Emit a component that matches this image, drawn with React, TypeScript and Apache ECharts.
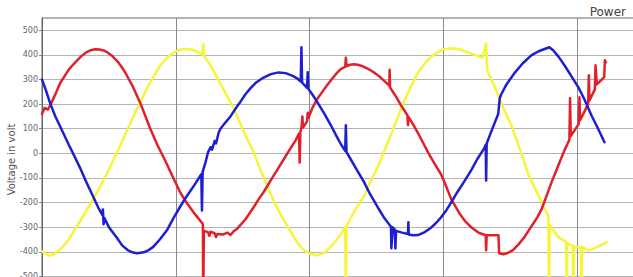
import React, { useEffect, useRef } from 'react';
import * as echarts from 'echarts';

// time in ms, voltage in volt
const yTicks = { min: -600, max: 550, step: 100 };
const xRange = { min: 0, max: 44.3, step: 10 };

const phaseRed: [number, number][] = [
  [0, 160], [0.2, 185], [0.45, 178], [0.7, 205], [1.0, 240], [1.35, 285], [1.7, 315], [2.0, 340],
  [2.35, 362], [2.7, 382], [3.0, 398], [3.3, 410], [3.65, 419], [3.97, 423], [4.3, 422], [4.6, 418],
  [4.9, 410], [5.2, 398], [5.62, 375], [5.9, 355], [6.2, 330], [6.5, 300], [6.8, 270], [7.34, 205],
  [7.7, 155], [8.09, 100], [8.61, 35], [9.21, -30], [9.81, -100], [10.34, -160], [10.86, -205],
  [11.4, -245], [11.99, -285], [12.02, -290], [12.04, -600], [12.08, -600], [12.1, -315], [12.4, -320],
  [12.5, -335], [12.6, -318], [12.9, -325], [13.0, -340], [13.1, -328], [13.5, -330], [13.86, -322],
  [14.08, -332], [14.3, -318], [14.61, -305], [15.2, -268], [15.8, -220], [16.2, -185], [16.55, -158],
  [17.2, -100], [17.6, -65], [18.05, -25], [18.5, 15], [18.95, 53], [19.2, 80], [19.25, -37],
  [19.3, 85], [19.4, 110], [19.45, 150], [19.5, 105], [19.8, 130], [19.85, 165], [19.9, 145],
  [20.25, 190], [20.6, 224], [21.1, 262], [21.57, 296], [22.0, 325], [22.32, 342], [22.65, 352],
  [22.7, 388], [22.75, 354], [23.0, 360], [23.3, 362], [23.6, 360], [23.9, 355], [24.2, 347],
  [24.57, 337], [24.9, 325], [25.3, 308], [25.95, 275], [25.97, 340], [26.0, 268], [26.07, 262],
  [26.45, 230], [26.82, 195], [27.3, 155], [27.34, 115], [27.38, 148], [27.7, 120], [28.09, 82],
  [28.45, 45], [28.84, 4], [29.3, -40], [29.81, -85], [30.2, -135], [30.56, -185], [31.2, -245],
  [31.6, -275], [32.06, -300], [32.6, -322], [33.15, -333], [33.18, -394], [33.22, -333], [34.1, -333],
  [34.15, -406], [34.46, -410], [34.8, -405], [35.2, -392], [35.6, -370], [36.03, -341], [36.4, -310],
  [36.7, -285], [37.0, -260], [37.3, -230], [37.68, -175], [38.05, -120], [38.6, -45], [39.03, 12],
  [39.4, 55], [39.45, 224], [39.5, 70], [40.1, 120], [40.15, 228], [40.2, 135], [40.8, 200],
  [40.85, 317], [40.9, 215], [41.3, 260], [41.35, 358], [41.45, 280], [42.0, 310], [42.05, 378],
  [42.12, 370],
];

const phaseYellow: [number, number][] = [
  [0, -398], [0.3, -410], [0.6, -415], [0.9, -410], [1.35, -390], [1.7, -370], [2.0, -350],
  [2.4, -315], [2.85, -275], [3.3, -235], [3.82, -185], [4.3, -140], [4.87, -80], [5.3, -30],
  [5.62, 5], [6.0, 50], [6.5, 110], [7.0, 170], [7.34, 205], [7.8, 260], [8.31, 310], [8.8, 355],
  [9.36, 390], [9.9, 412], [10.56, 425], [11.2, 422], [11.61, 412], [11.95, 402], [12.06, 443],
  [12.12, 395], [12.5, 365], [12.81, 335], [13.3, 285], [13.86, 230], [14.3, 185], [14.7, 135],
  [15.06, 90], [15.45, 45], [15.81, 5], [16.3, -65], [16.85, -135], [17.4, -205], [18.05, -270],
  [18.6, -320], [19.1, -365], [19.55, -392], [20.0, -408], [20.6, -415], [21.2, -400], [21.8, -366],
  [22.3, -330], [22.65, -300], [22.7, -600], [22.75, -295], [22.85, -285], [23.4, -230],
  [24.04, -175], [24.5, -120], [25.09, -54], [25.5, 0], [26.07, 75], [26.5, 135], [26.82, 180],
  [27.2, 230], [27.6, 275], [28.0, 320], [28.31, 345], [28.7, 372], [29.06, 392], [29.6, 412],
  [30.0, 422], [30.56, 427], [31.1, 424], [31.6, 415], [32.06, 405], [32.5, 397], [32.9, 388],
  [33.18, 447], [33.25, 340], [33.33, 329], [33.7, 285], [34.08, 236], [34.5, 180], [35.06, 114],
  [35.35, 70], [35.66, 22], [36.0, -30], [36.33, -85], [36.8, -140], [37.3, -195], [37.6, -230],
  [37.83, -255], [37.88, -600], [37.93, -290], [38.58, -341], [39.15, -360], [39.2, -600],
  [39.25, -365], [39.65, -375], [39.7, -600], [39.75, -380], [40.25, -385], [40.3, -600],
  [40.35, -380], [40.82, -394], [41.3, -385], [42.02, -366], [42.17, -360],
];

const phaseBlue: [number, number][] = [
  [0, 300], [0.3, 255], [0.6, 205], [1.0, 150], [1.57, 85], [2.0, 35], [2.32, 0], [2.85, -60],
  [3.3, -115], [3.82, -175], [4.2, -220], [4.5, -250], [4.55, -228], [4.6, -288], [4.65, -262],
  [5.0, -300], [5.62, -345], [6.0, -375], [6.4, -393], [6.8, -403], [7.12, -406], [7.6, -402],
  [8.0, -392], [8.31, -380], [8.8, -350], [9.36, -310], [9.8, -265], [10.34, -215], [10.8, -175],
  [11.31, -135], [11.9, -85], [11.95, -232], [12.0, -75], [12.2, -40], [12.4, 4], [12.6, 25],
  [12.7, 15], [12.9, 50], [13.0, 40], [13.2, 85], [13.33, 100], [13.7, 125], [14.08, 150],
  [14.5, 185], [14.83, 210], [15.2, 240], [15.58, 265], [16.0, 288], [16.55, 308], [17.1, 322],
  [17.68, 329], [18.2, 326], [18.73, 315], [19.05, 305], [19.33, 292], [19.38, 431], [19.43, 288],
  [19.8, 266], [19.85, 330], [19.9, 262], [20.25, 235], [20.6, 205], [21.1, 160], [21.57, 115],
  [22.0, 70], [22.32, 38], [22.65, 10], [22.7, 114], [22.75, 5], [23.07, -25], [23.5, -65],
  [24.04, -115], [24.5, -165], [25.09, -220], [25.6, -265], [26.07, -298], [26.1, -386], [26.2, -300],
  [26.35, -310], [26.4, -386], [26.45, -315], [26.9, -322], [27.34, -328], [27.37, -280], [27.4, -330],
  [27.7, -333], [28.09, -332], [28.6, -320], [29.06, -302], [29.4, -285], [29.81, -260], [30.2, -232],
  [30.56, -200], [31.0, -160], [31.5, -118], [32.06, -69], [32.5, -25], [33.03, 20], [33.15, 35],
  [33.18, -110], [33.22, 40], [33.5, 80], [34.08, 160], [34.2, 225], [34.31, 240], [34.7, 280],
  [35.28, 325], [35.9, 365], [36.55, 398], [37.1, 415], [37.6, 425], [37.9, 431], [38.2, 418],
  [38.6, 392], [39.03, 358], [39.5, 318], [40.07, 268], [40.5, 222], [41.05, 154], [41.5, 105],
  [42.02, 45],
];

export default function App() {
  const ref = useRef<HTMLDivElement>(null);
  useEffect(() => {
    if (!ref.current) return;
    const chart = echarts.init(ref.current, null, { renderer: 'svg' });
    const line = (name: string, data: [number, number][], color: string) => ({
      name,
      type: 'line',
      data,
      showSymbol: false,
      symbol: 'none',
      clip: true,
      lineStyle: { color, width: 2.5, join: 'round', cap: 'round' },
      itemStyle: { color },
    });
    chart.setOption({
      animation: false,
      backgroundColor: '#fff',
      title: {
        text: 'Power',
        right: 2,
        top: 1,
        textStyle: { fontSize: 12, fontWeight: 'normal', color: '#444', fontFamily: 'DejaVu Sans' },
      },
      grid: {
        left: 42,
        right: -2,
        top: 18,
        bottom: 1,
        containLabel: false,
        outerBoundsMode: 'none',
        show: true,
        borderColor: '#666',
        borderWidth: 1,
      },
      xAxis: {
        type: 'value',
        min: xRange.min,
        max: xRange.max,
        interval: xRange.step,
        axisLabel: { show: false },
        axisTick: { show: false },
        axisLine: { show: false },
        splitLine: { show: true, showMaxLine: false, lineStyle: { color: '#8a8a8a', width: 1 } },
      },
      yAxis: {
        type: 'value',
        min: yTicks.min,
        max: yTicks.max,
        interval: yTicks.step,
        name: 'Voltage in volt',
        nameLocation: 'middle',
        nameGap: 26,
        nameMoveOverlap: false,
        nameTextStyle: { fontSize: 10, color: '#555', fontFamily: 'DejaVu Sans' },
        axisLine: { show: true, lineStyle: { color: '#666' } },
        axisTick: { show: true, length: 3, lineStyle: { color: '#888' } },
        axisLabel: {
          showMaxLabel: false,
          fontSize: 8,
          margin: 4,
          color: '#666',
          fontFamily: 'DejaVu Sans',
        },
        splitLine: { show: true, lineStyle: { color: '#b4b4b4', width: 1 } },
      },
      series: [
        line('Phase L3', phaseYellow, '#f7f53a'),
        line('Phase L1', phaseRed, '#e2202a'),
        line('Phase L2', phaseBlue, '#1e1ed2'),
      ],
    });
    return () => chart.dispose();
  }, []);
  return (
    <div style={{ position: 'fixed', left: 0, top: 0, width: 633, height: 277, overflow: 'hidden', background: '#fff' }}>
      <div ref={ref} style={{ width: 633, height: 302 }} />
    </div>
  );
}
